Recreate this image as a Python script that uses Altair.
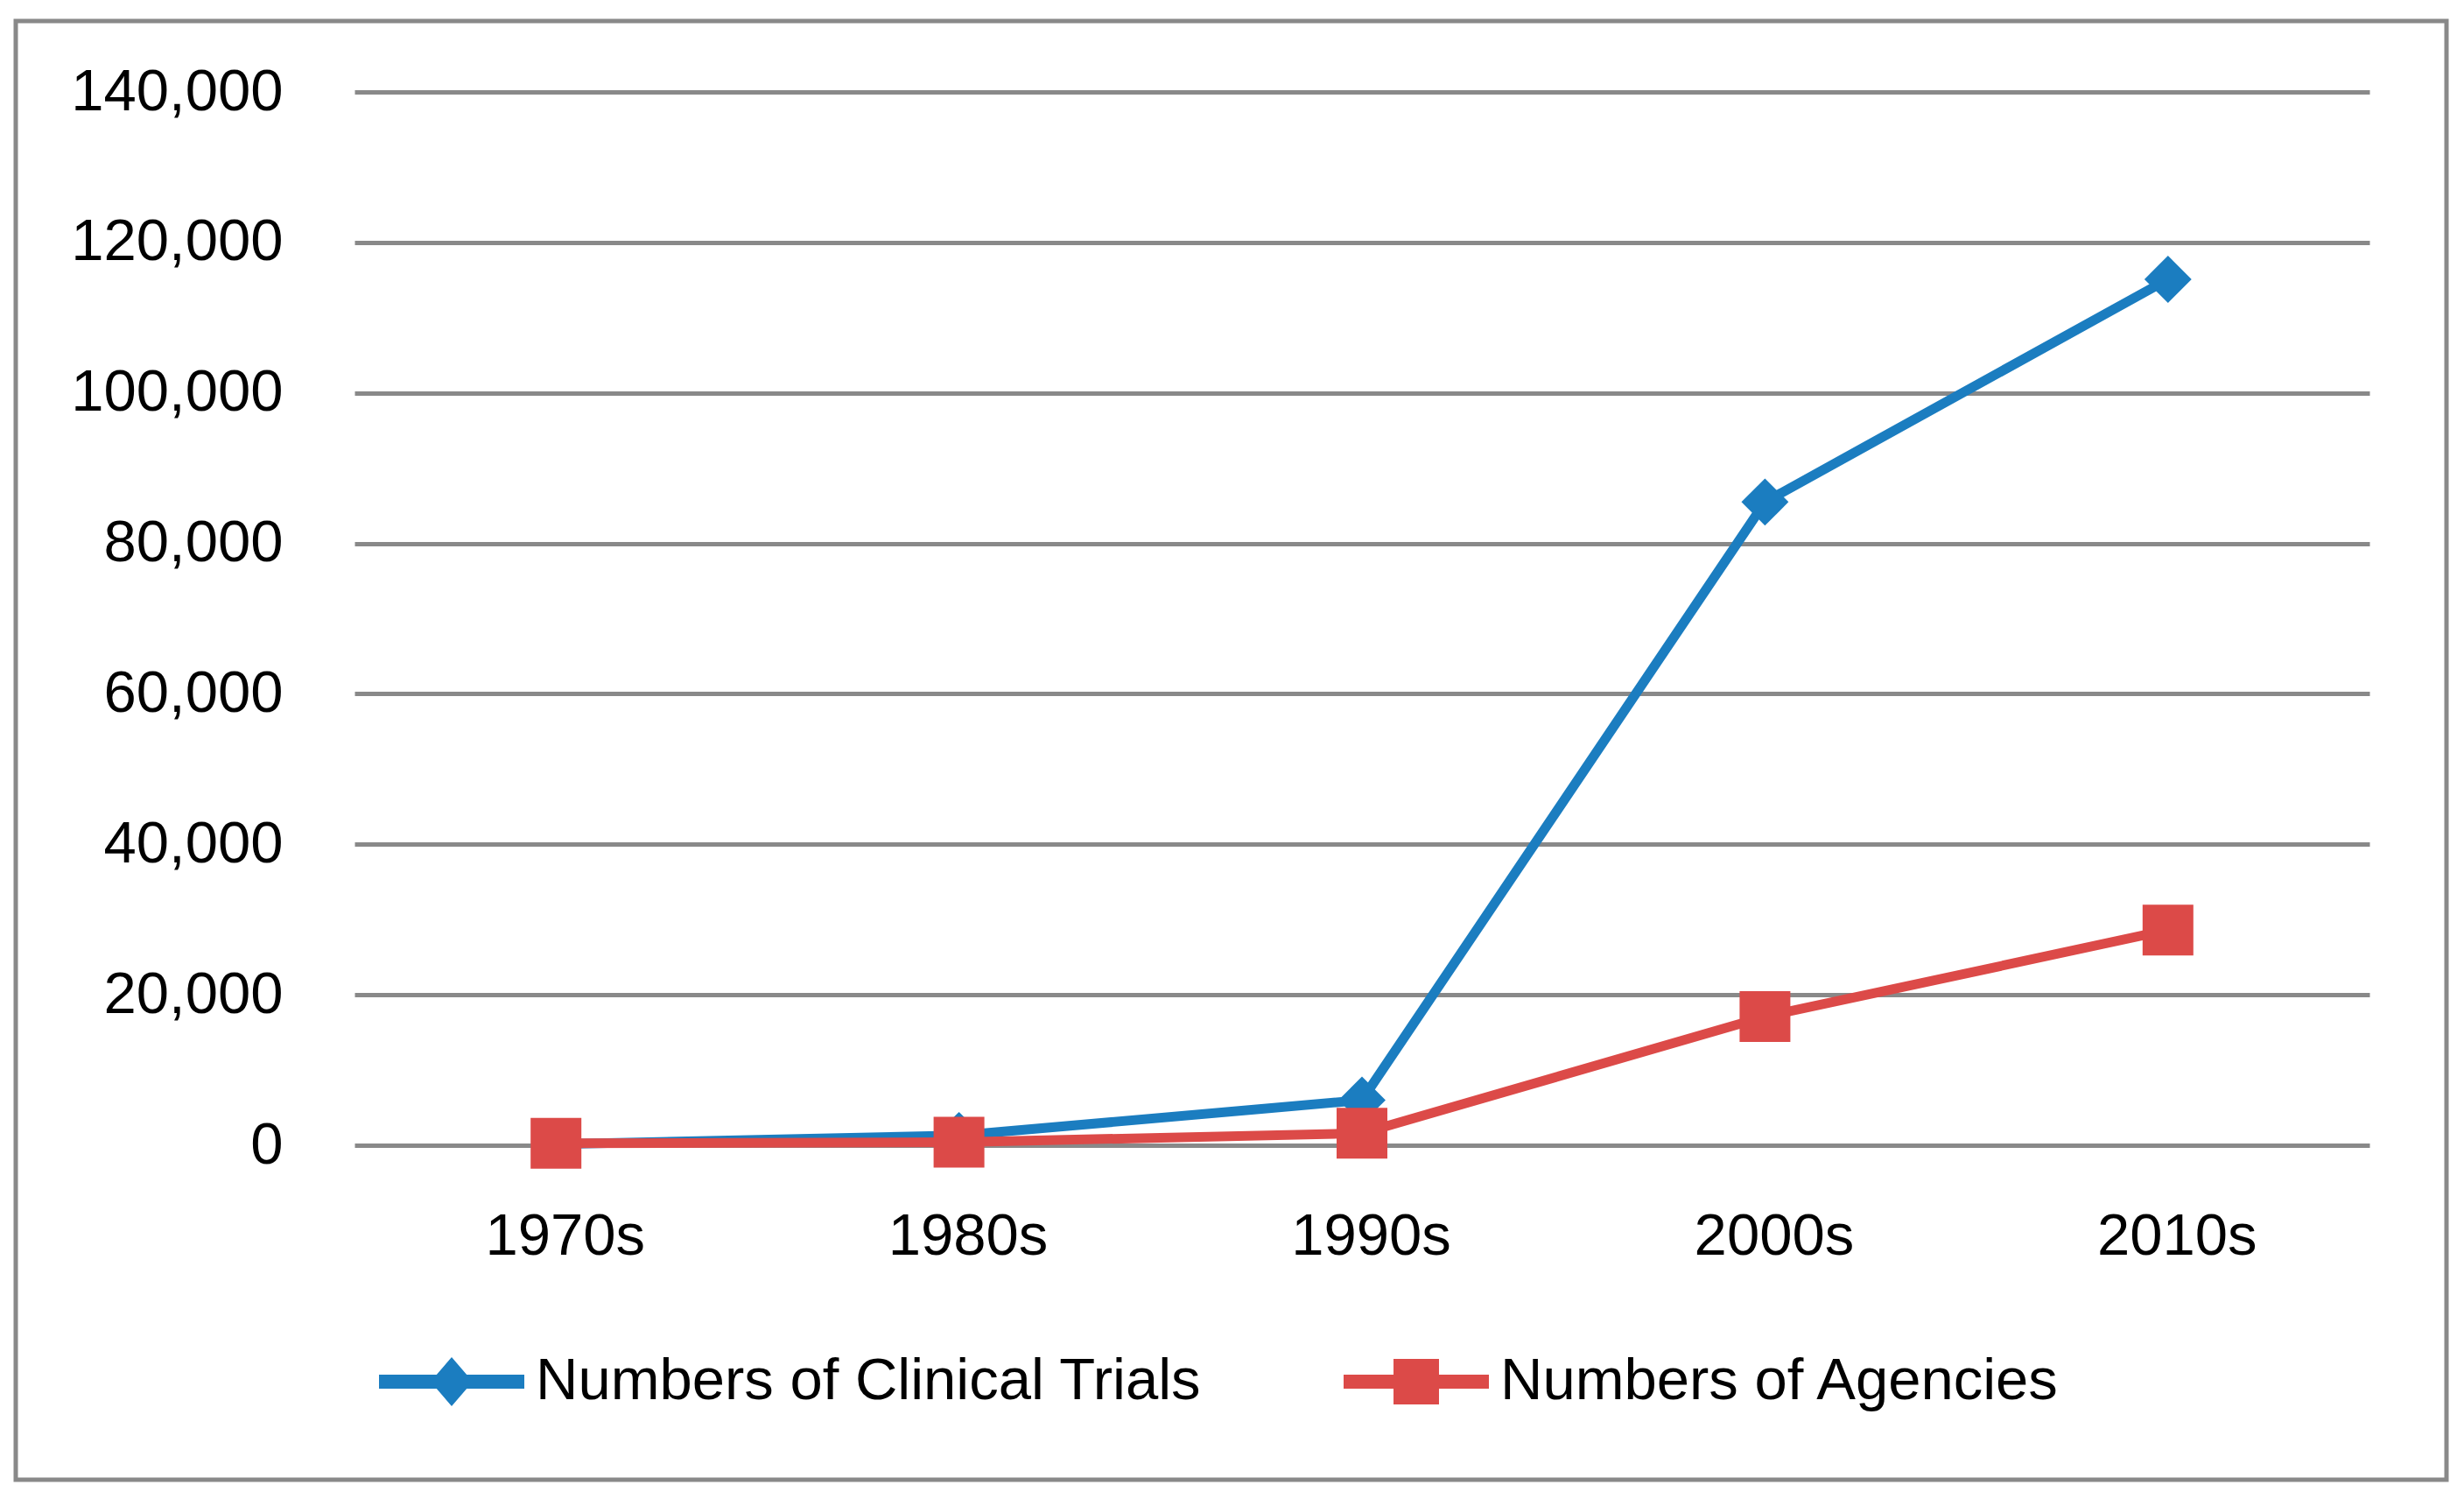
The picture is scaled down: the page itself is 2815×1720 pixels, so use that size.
import altair as alt
import pandas as pd

decades = ["1970s", "1980s", "1990s", "2000s", "2010s"]
trials = [150, 1300, 6000, 85500, 115100]
agencies = [250, 400, 1600, 17100, 28600]
series_names = ["Numbers of Clinical Trials", "Numbers of Agencies"]
colors = ["#1B7DC0", "#DC4A48"]
y_ticks = [0, 20000, 40000, 60000, 80000, 100000, 120000, 140000]

rows = []
for d, v in zip(decades, trials):
    rows.append({"decade": d, "value": v, "series": series_names[0]})
for d, v in zip(decades, agencies):
    rows.append({"decade": d, "value": v, "series": series_names[1]})
df = pd.DataFrame(rows)

FONT = "Liberation Sans"
FS = 67
W, H = 2777, 1666

x_enc = alt.X("decade:N", sort=decades,
              scale=alt.Scale(domain=decades, range=[387, 2689], paddingInner=0, paddingOuter=0),
              axis=alt.Axis(title=None, domain=False, ticks=False, grid=False,
                            labelAngle=0, labelFont=FONT, labelFontSize=FS, labelColor="#000000",
                            labelBaseline="alphabetic", labelPadding=124, labelOffset=10,
                            labelLimit=1000, labelOverlap=False, offset=-382))
y_enc = alt.Y("value:Q",
              scale=alt.Scale(domain=[0, 140000], range=[1284, 81], nice=False, zero=True),
              axis=alt.Axis(title=None, values=y_ticks, domain=False, ticks=False,
                            labelExpr="format(datum.value, ',')",
                            grid=True, gridColor="#898989", gridWidth=5,
                            labelFont=FONT, labelFontSize=FS, labelColor="#000000",
                            labelLimit=1000, labelOverlap=False, labelPadding=0, offset=-305))

cscale = alt.Scale(domain=series_names, range=colors)

base = alt.Chart(df).encode(x=x_enc, y=y_enc)

def part(name):
    return base.transform_filter(alt.datum.series == name)

blue_line = part(series_names[0]).mark_line(strokeWidth=11).encode(
    color=alt.Color("series:N", scale=cscale, legend=None))
blue_pts = part(series_names[0]).mark_point(shape="diamond", filled=True, size=2900, opacity=1).encode(
    color=alt.Color("series:N", scale=cscale, legend=None))
red_line = part(series_names[1]).mark_line(strokeWidth=11).encode(
    color=alt.Color("series:N", scale=cscale, legend=None))
red_pts = part(series_names[1]).mark_point(shape="square", filled=True, size=3364, opacity=1).encode(
    color=alt.Color("series:N", scale=cscale, legend=None))

path_blue = "M-1,-0.096H1V0.096H-1Z M0,-0.337L0.29,0L0,0.337L-0.29,0Z"
path_red = "M-1,-0.096H1V0.096H-1Z M-0.313,-0.313H0.313V0.313H-0.313Z"

leg = alt.Legend(title=None, orient="none", legendX=415, legendY=1471, direction="horizontal",
                 symbolSize=27556, symbolStrokeWidth=0, symbolOpacity=1,
                 labelFont=FONT, labelFontSize=FS, labelColor="#000000", labelOffset=13,
                 columnPadding=162, padding=0, rowPadding=0, labelLimit=2000)

legend_layer = base.mark_point(filled=True, opacity=0).encode(
    color=alt.Color("series:N", scale=cscale, legend=leg),
    shape=alt.Shape("series:N", scale=alt.Scale(domain=series_names, range=[path_blue, path_red]), legend=leg),
)

chart = alt.layer(legend_layer, blue_line, blue_pts, red_line, red_pts).properties(
    width=W, height=H,
    autosize=alt.AutoSizeParams(type="none"),
    padding={"left": 10, "top": 16, "right": 10, "bottom": 10},
    background="#ffffff",
).configure_view(stroke="#898989", strokeWidth=5)

chart.save("out.html", embed_options={"renderer": "svg", "actions": False})
